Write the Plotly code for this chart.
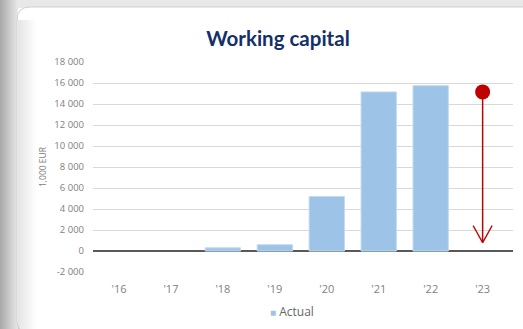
import plotly.graph_objects as go

# Chart data
years = ["'16", "'17", "'18", "'19", "'20", "'21", "'22", "'23"]
actual = [None, None, 300, 600, 5200, 15150, 15750, None]
series_name = "Actual"
target_year = "'23"
target_value = 15150
target_tip = 800
y_ticks = [-2000, 0, 2000, 4000, 6000, 8000, 10000, 12000, 14000, 16000, 18000]
y_tick_labels = [f"{v:,}".replace(",", " ") for v in y_ticks]

BAR_COLOR = "#9dc3e6"

W, H = 523, 329
ML, MR, MT, MB = 93, 10, 62, 57
PW, PH = W - ML - MR, H - MT - MB


def px(x):
    return (x - ML) / PW


def py(y):
    return (H - MB - y) / PH


fig = go.Figure()

fig.add_trace(go.Bar(
    x=years, y=actual, name=series_name,
    marker=dict(color=BAR_COLOR, line=dict(color="#c3dbf0", width=1)),
    showlegend=False,
))

# forecast arrow: stem from the target point down to the tip
fig.add_trace(go.Scatter(
    x=[target_year, target_year], y=[target_value, target_tip],
    mode="lines", line=dict(color="#c00000", width=1.5),
    showlegend=False, hoverinfo="skip",
))
fig.add_trace(go.Scatter(
    x=[target_year], y=[target_value], mode="markers",
    marker=dict(color="#c00000", size=15),
    showlegend=False,
))

shapes = []
# left vignette of the page background
for i in range(0, 18):
    g = int(170 + (232 - 170) * i / 17)
    shapes.append(dict(type="rect", xref="paper", yref="paper", layer="below",
                       x0=px(i), x1=px(i + 1), y0=py(H + 2), y1=py(-2),
                       fillcolor=f"rgb({g},{g},{g})", line=dict(width=0)))
# top strip
shapes.append(dict(type="rect", xref="paper", yref="paper", layer="below",
                   x0=px(17), x1=px(W + 2), y0=py(8), y1=py(-2),
                   fillcolor="#e8e8e8", line=dict(width=0)))
# card with rounded left corners
r = 13
cx0, cy0, cx1, cy1 = 17, 7, W + 5, 334
path = (f"M {px(cx0 + r)},{py(cy0)} L {px(cx1)},{py(cy0)} L {px(cx1)},{py(cy1)} "
        f"L {px(cx0 + r)},{py(cy1)} Q {px(cx0)},{py(cy1)} {px(cx0)},{py(cy1 - r)} "
        f"L {px(cx0)},{py(cy0 + r)} Q {px(cx0)},{py(cy0)} {px(cx0 + r)},{py(cy0)} Z")
shapes.append(dict(type="path", xref="paper", yref="paper", layer="below",
                   path=path, fillcolor="white", line=dict(color="#cfcfcf", width=1)))
# soft inner shading along the card's left edge
for i in range(0, 18):
    a = 0.10 * (1 - i / 18)
    shapes.append(dict(type="rect", xref="paper", yref="paper", layer="below",
                       x0=px(18 + i), x1=px(19 + i), y0=py(cy1), y1=py(cy0 + r),
                       fillcolor=f"rgba(0,0,0,{a:.3f})", line=dict(width=0)))

# open arrowhead at the tip
for dx in (-9.5, 9.5):
    shapes.append(dict(type="line", xref="x", yref="y",
                       xsizemode="pixel", ysizemode="pixel",
                       xanchor=target_year, yanchor=target_tip,
                       x0=dx, y0=17, x1=0, y1=0,
                       line=dict(color="#c00000", width=1.3)))

# compact legend key below the axis
legend_text = (f"<span style='color:{BAR_COLOR};font-size:10px'>■</span>"
               f" {series_name}")

fig.update_layout(
    width=W, height=H,
    margin=dict(l=ML, r=MR, t=MT, b=MB, autoexpand=False),
    paper_bgcolor="white", plot_bgcolor="rgba(0,0,0,0)",
    shapes=shapes,
    bargap=0.32,
    showlegend=False,
    title=dict(text="<b>Working capital</b>", xref="container", yref="container",
               x=278 / W, xanchor="center", y=1 - 39 / H, yanchor="middle",
               font=dict(family="Lato", size=20.5, color="#13306a")),
    font=dict(family="Open Sans", color="#7f7f7f"),
    xaxis=dict(type="category", categoryorder="array", categoryarray=years,
               showgrid=False, showline=False, ticks="", automargin=False,
               tickfont=dict(size=11, color="#7f7f7f"), ticklabelstandoff=9),
    yaxis=dict(range=[-2000, 18000], tickvals=y_ticks, ticktext=y_tick_labels,
               showgrid=True, gridcolor="#d9d9d9", gridwidth=1, automargin=False,
               zeroline=True, zerolinecolor="#595959", zerolinewidth=1.5,
               tickfont=dict(size=9.5, color="#808080"), ticklabelstandoff=8,
               title=dict(text="1,000 EUR", font=dict(size=8.5, color="#808080"),
                          standoff=6)),
    annotations=[dict(text=legend_text, xref="paper", yref="paper",
                      x=px(268), xanchor="left", y=py(311), yanchor="middle",
                      showarrow=False,
                      font=dict(family="Open Sans", size=12, color="#666666"))],
)

fig.write_html("out.html")
